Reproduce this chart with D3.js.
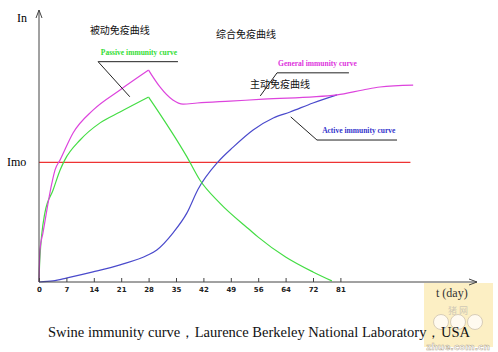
<!DOCTYPE html>
<html>
<head>
<meta charset="utf-8">
<script src="https://cdn.jsdelivr.net/npm/d3@7"></script>
<style>
  body { margin: 0; background: #fff; }
  svg { display: block; }
</style>
</head>
<body>
<div id="chart"></div>
<script>
// Data
const tickDays = [0, 7, 14, 21, 28, 35, 42, 49, 56, 64, 72, 81];

const passiveDays = [0, 0.2, 1.5, 3.6, 5.4, 6.6, 10.5, 15.6, 20.7, 28, 37.8, 41.1, 46.2, 53.9, 56, 64, 72, 78.2];
const passiveVals = [0, 8, 25.4, 33.8, 41.2, 44.9, 52.2, 58.5, 62.5, 68, 46, 37.5, 29, 19.1, 16.5, 9.2, 3.7, 0.4];

const generalDays = [0, 0.25, 1, 3.3, 4.1, 5.4, 8.7, 13.8, 20.7, 28, 29.1, 30.9, 34.2, 36.8, 40.4, 48.8, 57.5, 79.9, 88.4, 94, 104.9];
const generalVals = [0, 12, 18, 36.4, 41.2, 44.9, 54.8, 63.2, 70.6, 77.9, 75.4, 71.7, 66.9, 65.4, 65.8, 66.5, 67.2, 68.8, 70.6, 71.7, 72.4];

const activeDays = [0, 3.6, 7.2, 13.8, 20.7, 27.8, 30.1, 34.2, 37.8, 40.6, 45.7, 49.6, 54.7, 60.4, 65.3, 72, 79.9];
const activeVals = [0, 0.4, 1.5, 3.7, 6.3, 9.9, 11.8, 18, 25.4, 34, 44.1, 49.6, 55.9, 60.3, 62.5, 65.8, 68.8];

const imoValue = 44;
const imoEndDay = 104;

const labels = [
  { text: 'Passive immunity curve', color: '#33dd33', day: 15.8, val: 83.6, lead: [[35.5, 81], [15.1, 81], [23.2, 68.1]] },
  { text: 'General immunity curve', color: '#dd33dd', day: 61.8, val: 79.4, lead: [[83.8, 76.9], [61.5, 76.9], [56.6, 68.4]] },
  { text: 'Active immunity curve', color: '#3333cc', day: 75, val: 54.8, lead: [[99.6, 52.2], [73.3, 52.2], [65.5, 60.7]] }
];

const cnLabels = [
  { text: '被动免疫曲线', day: 13, val: 91.3 },
  { text: '综合免疫曲线', day: 45.2, val: 89.8 },
  { text: '主动免疫曲线', day: 53.9, val: 71.3 }
];

const caption = 'Swine immunity curve，Laurence Berkeley National Laboratory，USA';

// Dimensions
const dimensions = {
  width: 498,
  height: 352,
  left: 39,
  tickStep: 27.4,
  axisY: 282,
  top: 10
};

const svg = d3.select('#chart')
  .append('svg')
  .attr('width', dimensions.width)
  .attr('height', dimensions.height);

// Scales: ticks are evenly spaced even though the labels are not
const xScale = d3.scaleLinear()
  .domain(tickDays)
  .range(tickDays.map((d, i) => dimensions.left + i * dimensions.tickStep));

const yScale = d3.scaleLinear()
  .domain([0, 100])
  .range([dimensions.axisY, dimensions.top]);

// Watermark box
const wm = svg.append('g');
wm.append('rect')
  .attr('x', 424).attr('y', 283).attr('width', 69).attr('height', 64)
  .attr('fill', '#fcefc4');
wm.append('text')
  .attr('x', 458).attr('y', 314).attr('text-anchor', 'middle')
  .attr('font-family', 'Noto Sans CJK SC').attr('font-size', 9)
  .attr('fill', '#cfc8b6')
  .text('猪    网');
[441, 458, 475].forEach(cx => {
  wm.append('circle')
    .attr('cx', cx).attr('cy', 322).attr('r', 7.5)
    .attr('fill', '#fffaf0').attr('stroke', '#d8cdb8');
});
wm.append('text')
  .attr('x', 458).attr('y', 350).attr('text-anchor', 'middle')
  .attr('font-family', 'DejaVu Sans').attr('font-weight', 'bold').attr('font-size', 9)
  .attr('fill', '#fff').attr('stroke', '#b5a98f').attr('stroke-width', 0.5)
  .text('zhue.com.cn');

// Imo line
svg.append('line')
  .attr('x1', xScale(0)).attr('x2', xScale(imoEndDay))
  .attr('y1', yScale(imoValue)).attr('y2', yScale(imoValue))
  .attr('stroke', '#ee3333').attr('stroke-width', 1.2);

// Curves
const line = d3.line()
  .x(d => xScale(d[0]))
  .y(d => yScale(d[1]))
  .curve(d3.curveMonotoneX);

function drawCurve(days, vals, color, kinkDay) {
  const pts = days.map((d, i) => [d, vals[i]]);
  const k = kinkDay == null ? -1 : days.indexOf(kinkDay);
  const parts = k > 0 ? [pts.slice(0, k + 1), pts.slice(k)] : [pts];
  parts.forEach(p => {
    svg.append('path')
      .attr('d', line(p))
      .attr('fill', 'none')
      .attr('stroke', color)
      .attr('stroke-width', 1.2);
  });
}

drawCurve(activeDays, activeVals, '#4a4acc');
drawCurve(passiveDays, passiveVals, '#44dd44', 28);
drawCurve(generalDays, generalVals, '#dd44dd', 28);

// Axes
const axisColor = '#444';
const arrowEnd = 477;

const xAxis = d3.axisBottom(xScale)
  .tickValues(tickDays)
  .tickSize(-4)
  .tickPadding(5)
  .tickFormat(d3.format('d'));

const xAxisGroup = svg.append('g')
  .attr('transform', `translate(0, ${dimensions.axisY})`)
  .call(xAxis);
xAxisGroup.select('.domain').remove();
xAxisGroup.selectAll('line').attr('stroke', axisColor);
xAxisGroup.selectAll('text')
  .attr('font-family', 'DejaVu Sans')
  .attr('font-weight', 'bold')
  .attr('font-size', 7)
  .attr('fill', '#222');

svg.append('line')
  .attr('x1', dimensions.left).attr('x2', arrowEnd)
  .attr('y1', dimensions.axisY).attr('y2', dimensions.axisY)
  .attr('stroke', axisColor);
svg.append('path')
  .attr('d', `M${arrowEnd - 8},${dimensions.axisY - 3}L${arrowEnd},${dimensions.axisY}L${arrowEnd - 8},${dimensions.axisY + 3}`)
  .attr('fill', 'none').attr('stroke', axisColor);

svg.append('line')
  .attr('x1', dimensions.left).attr('x2', dimensions.left)
  .attr('y1', dimensions.axisY).attr('y2', dimensions.top)
  .attr('stroke', axisColor);
svg.append('path')
  .attr('d', `M${dimensions.left - 3},${dimensions.top + 8}L${dimensions.left},${dimensions.top}L${dimensions.left + 3},${dimensions.top + 8}`)
  .attr('fill', 'none').attr('stroke', axisColor);

// Axis names
svg.append('text')
  .attr('x', 17).attr('y', 22)
  .attr('font-family', 'Liberation Serif').attr('font-size', 12)
  .text('In');
svg.append('text')
  .attr('x', 7).attr('y', yScale(imoValue) + 4)
  .attr('font-family', 'Liberation Serif').attr('font-size', 12)
  .text('Imo');
svg.append('text')
  .attr('x', 436).attr('y', 297)
  .attr('font-family', 'Liberation Serif').attr('font-size', 12)
  .attr('fill', '#333')
  .text('t (day)');

// English labels with leader lines
labels.forEach(l => {
  svg.append('path')
    .attr('d', d3.line().x(d => xScale(d[0])).y(d => yScale(d[1]))(l.lead))
    .attr('fill', 'none').attr('stroke', '#222').attr('stroke-width', 1);
  svg.append('text')
    .attr('x', xScale(l.day)).attr('y', yScale(l.val))
    .attr('font-family', 'Liberation Serif').attr('font-weight', 'bold')
    .attr('font-size', 7.5)
    .attr('fill', l.color)
    .text(l.text);
});

// Chinese labels
cnLabels.forEach(l => {
  svg.append('text')
    .attr('x', xScale(l.day)).attr('y', yScale(l.val))
    .attr('font-family', 'Noto Sans CJK SC').attr('font-size', 10)
    .attr('fill', '#111')
    .text(l.text);
});

// Caption
svg.append('text')
  .attr('x', 48).attr('y', 337)
  .attr('font-family', 'Liberation Serif').attr('font-size', 14)
  .attr('textLength', 422).attr('lengthAdjust', 'spacingAndGlyphs')
  .attr('fill', '#111')
  .text(caption);
</script>
</body>
</html>
